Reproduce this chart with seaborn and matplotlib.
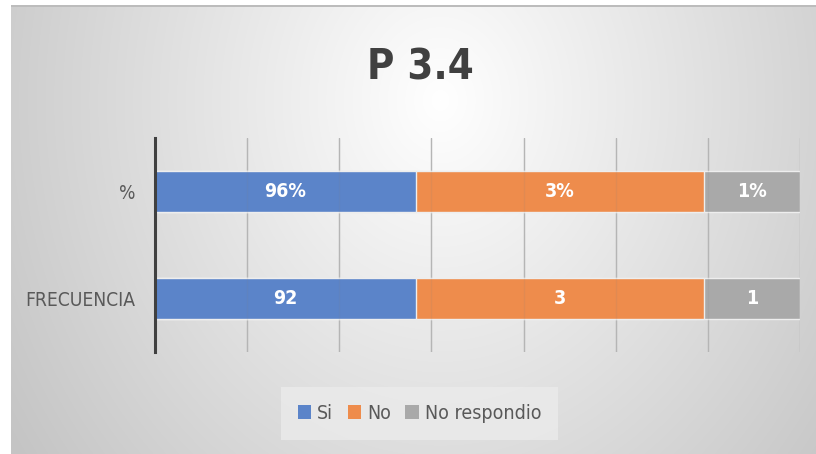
import numpy as np
import pandas as pd
import matplotlib
matplotlib.use('Agg')
import matplotlib.pyplot as plt
import seaborn as sns
from matplotlib.patches import Patch
from matplotlib import font_manager as fm

# ---- data ----
categories = ['%', 'FRECUENCIA']
series = ['Si', 'No', 'No respondio']
si_len = [2.83, 2.83]
no_len = [3.13, 3.13]
nr_len = [1.04, 1.04]
si_labels = ['96%', '92']
no_labels = ['3%', '3']
nr_labels = ['1%', '1']
colors = ['#5b84c9', '#ee8c4c', '#a9a9a9']
title = 'P 3.4'

sns.set_theme(style='white')
have_cond = any(f.name == 'DejaVu Sans' and str(f.stretch) in ('condensed', 'semi-condensed', '87.5')
                for f in fm.fontManager.ttflist)
plt.rcParams['font.family'] = ['DejaVu Sans']
plt.rcParams['font.stretch'] = 'condensed'
scale = 1.0 if have_cond else 0.86

W, H = 816, 454
fig = plt.figure(figsize=(W / 100, H / 100), dpi=100)

# background gradient panel
bg = fig.add_axes([0, 0, 1, 1], zorder=-10)
yy, xx = np.mgrid[0:H, 0:W]
d = np.sqrt(((xx - 440) / 470.0) ** 2 + ((yy - 100) / 560.0) ** 2)
v = 1 - 0.21 * np.clip(d, 0, 1.1)
v[:, :11] = 1.0
v[:5, :] = 1.0
v[5:7, 11:] = 0.74
bg.imshow(np.dstack([v, v, v]), extent=(0, W, H, 0), aspect='auto', interpolation='bilinear')
bg.set_xlim(0, W)
bg.set_ylim(H, 0)
bg.axis('off')

ax = fig.add_axes([155 / W, 1 - 352 / H, 645 / W, 214 / H])
ax.set_facecolor('none')

cum1 = np.array(si_len)
cum2 = cum1 + np.array(no_len)
cum3 = cum2 + np.array(nr_len)

for vals, color in [(cum3, colors[2]), (cum2, colors[1]), (cum1, colors[0])]:
    df = pd.DataFrame({'cat': categories, 'val': vals})
    sns.barplot(data=df, x='val', y='cat', order=categories, orient='h',
                color=color, width=0.39, saturation=1, edgecolor='#eeeeee',
                linewidth=1, ax=ax, zorder=2)

# faint gridlines visible through bars
for xv in range(1, 8):
    ax.axvline(xv, color='#808080', lw=1, alpha=0.12, zorder=3)

for i in range(len(categories)):
    centers = [cum1[i] / 2, cum1[i] + no_len[i] / 2, cum2[i] + nr_len[i] / 2]
    for c, lab in zip(centers, [si_labels[i], no_labels[i], nr_labels[i]]):
        ax.text(c, i, lab, ha='center', va='center', color='white',
                fontweight='bold', fontsize=14 * scale, zorder=4)

ax.set_xlim(0, 7)
ax.set_ylim(1.5, -0.5)
ax.set_xticks(range(8))
ax.xaxis.grid(True, color='#bdbdbd', lw=1)
ax.set_axisbelow(True)
ax.tick_params(axis='x', labelbottom=False, length=0)
ax.tick_params(axis='y', length=0, pad=14, labelsize=13.8 * scale, labelcolor='#595959')
ax.set_xlabel('')
ax.set_ylabel('')
for s in ['top', 'right', 'bottom']:
    ax.spines[s].set_visible(False)
ax.spines['left'].set_color('#404040')
ax.spines['left'].set_linewidth(2.2)

fig.text(420 / W, 1 - 67 / H, title, ha='center', va='center', fontsize=30 * scale,
         fontweight='bold', color='#404040')

handles = [Patch(facecolor=c, edgecolor='none') for c in colors]
leg = fig.legend(handles, series, loc='center', bbox_to_anchor=(419.5 / W, 1 - 413.5 / H),
                 ncol=3, frameon=True, facecolor='#ebebeb', edgecolor='none',
                 fontsize=14 * scale, handlelength=0.7, handleheight=0.7, handletextpad=0.3,
                 columnspacing=0.75, borderpad=0.85, fancybox=False)
for t in leg.get_texts():
    t.set_color('#595959')

fig.savefig('out.png', dpi=100)
